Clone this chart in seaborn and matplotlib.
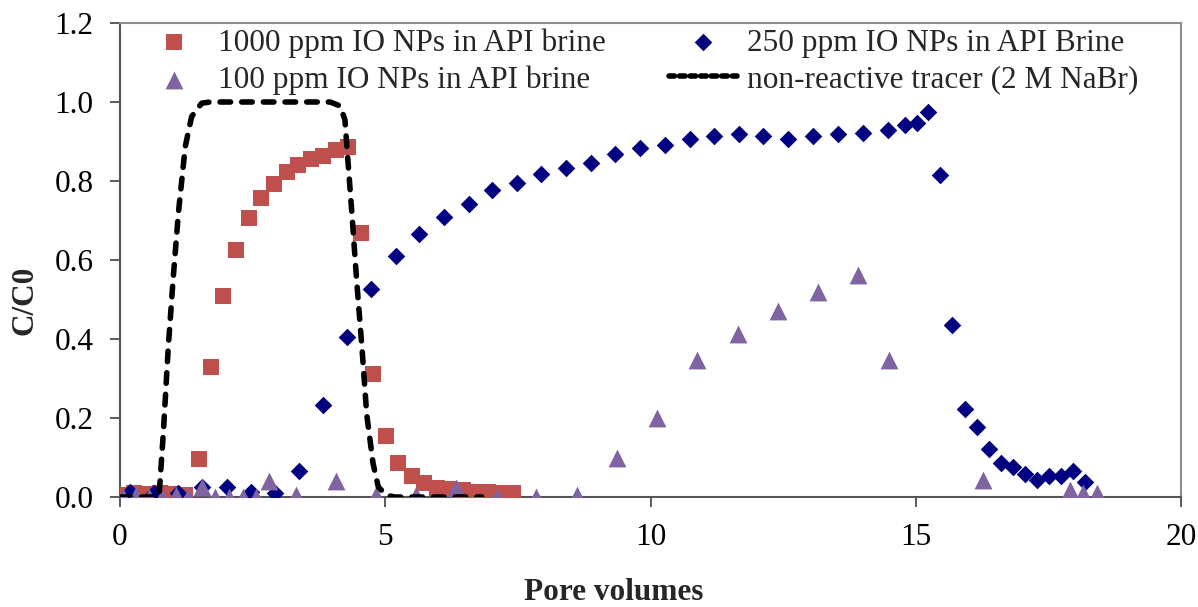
import numpy as np
import pandas as pd
import matplotlib
matplotlib.use("Agg")
import matplotlib.pyplot as plt
import seaborn as sns

# ---- data ----
pv_1000 = [0.03, 0.27, 0.51, 0.75, 0.99, 1.23, 1.48, 1.71, 1.95, 2.19, 2.43, 2.66, 2.90, 3.14,
           3.36, 3.60, 3.83, 4.07, 4.30, 4.55, 4.77, 5.01, 5.24, 5.50, 5.73, 5.97, 6.22, 6.46,
           6.69, 6.93, 7.16, 7.40]
c_1000 = [0.005, 0.010, 0.008, 0.010, 0.008, 0.006, 0.095, 0.328, 0.510, 0.626, 0.707, 0.756,
          0.793, 0.822, 0.840, 0.855, 0.864, 0.879, 0.885, 0.669, 0.311, 0.154, 0.086, 0.054,
          0.035, 0.024, 0.021, 0.017, 0.013, 0.013, 0.010, 0.010]

pv_250 = [0.19, 0.65, 1.10, 1.55, 2.01, 2.47, 2.92, 3.37, 3.82, 4.27, 4.73, 5.20, 5.64, 6.10,
          6.57, 7.02, 7.48, 7.94, 8.41, 8.88, 9.34, 9.81, 10.28, 10.74, 11.20, 11.67, 12.13,
          12.59, 13.07, 13.54, 14.00, 14.47, 14.80, 15.02, 15.24, 15.46, 15.69, 15.92, 16.15,
          16.38, 16.61, 16.83, 17.06, 17.29, 17.51, 17.73, 17.96, 18.19]
c_250 = [0.013, 0.011, 0.009, 0.026, 0.025, 0.013, 0.010, 0.066, 0.234, 0.404, 0.527, 0.610,
         0.666, 0.708, 0.742, 0.777, 0.794, 0.818, 0.832, 0.845, 0.869, 0.883, 0.890, 0.907,
         0.914, 0.920, 0.913, 0.907, 0.914, 0.919, 0.921, 0.928, 0.941, 0.948, 0.974, 0.815,
         0.435, 0.222, 0.178, 0.122, 0.086, 0.076, 0.058, 0.042, 0.053, 0.053, 0.066, 0.038]

pv_100 = [0.06, 0.30, 0.55, 0.80, 1.05, 1.29, 1.55, 1.80, 2.05, 2.31, 2.56, 2.81, 3.31, 4.07,
          4.83, 5.58, 6.33, 7.10, 7.85, 8.61, 9.37, 10.12, 10.88, 11.65, 12.40, 13.16, 13.92,
          14.50, 16.27, 17.91, 18.16, 18.41]
c_100 = [0.000, 0.005, 0.000, 0.000, 0.005, 0.000, 0.025, 0.000, 0.000, 0.000, 0.000, 0.040,
         0.005, 0.040, 0.005, 0.005, 0.022, 0.000, 0.000, 0.005, 0.100, 0.200, 0.348, 0.413,
         0.472, 0.520, 0.562, 0.347, 0.043, 0.017, 0.009, 0.009]

pv_tracer = [0.00, 0.70, 0.74, 0.82, 0.91, 1.00, 1.10, 1.23, 1.35, 1.54, 1.70, 3.96, 4.15, 4.24,
             4.30, 4.37, 4.46, 4.56, 4.65, 4.77, 4.87, 5.03, 5.18, 6.82]
c_tracer = [0.000, 0.000, 0.009, 0.169, 0.380, 0.549, 0.718, 0.887, 0.963, 0.997, 1.000, 1.000,
            0.990, 0.955, 0.845, 0.720, 0.550, 0.380, 0.210, 0.085, 0.025, 0.004, 0.000, 0.000]

labels = ["1000 ppm IO NPs in API brine", "100 ppm IO NPs in API brine",
          "250 ppm IO NPs in API Brine", "non-reactive tracer (2 M NaBr)"]
x_ticks = [0, 5, 10, 15, 20]
y_ticks = [0.0, 0.2, 0.4, 0.6, 0.8, 1.0, 1.2]

# ---- style ----
sns.set_style("white")
plt.rcParams["font.family"] = ["Liberation Serif", "DejaVu Serif"]
FS = 22.5
LW = 4.0
DASH = (0, (1.9, 2.0))

W, H = 1198, 607
fig = plt.figure(figsize=(W / 100, H / 100), dpi=100)
ax = fig.add_axes([120 / W, 1 - 497 / H, (1181 - 120) / W, (497 - 23) / H])

sns.scatterplot(x=pv_1000, y=c_1000, marker="s", s=120, color="#C0504D", linewidth=0,
                label=labels[0], ax=ax, zorder=3)
sns.scatterplot(x=pv_250, y=c_250, marker="D", s=80, color="#000080", linewidth=0,
                label=labels[2], ax=ax, zorder=3)
sns.scatterplot(x=pv_100, y=c_100, marker="^", s=165, color="#8064A2", linewidth=0,
                label=labels[1], ax=ax, zorder=4)
tr = pd.DataFrame({"pv": pv_tracer, "c": c_tracer})
sns.lineplot(data=tr, x="pv", y="c", color="black", sort=False, label=labels[3], ax=ax,
             zorder=5, lw=LW, ls=DASH, dash_capstyle="round", solid_joinstyle="round")

for ln in ax.lines:
    ln.set_linewidth(LW)
    ln.set_linestyle(DASH)
    ln.set_dash_capstyle("round")

ax.set_xlim(0, 20)
ax.set_ylim(0, 1.2)
ax.set_xticks(x_ticks)
ax.set_xticklabels([str(v) for v in x_ticks])
ax.set_yticks(y_ticks)
ax.set_yticklabels([f"{v:.1f}" for v in y_ticks])
ax.tick_params(axis="both", direction="out", length=7, width=1.2, colors="#404040",
               labelcolor="black", labelsize=FS, bottom=True, left=True)
ax.tick_params(axis="x", pad=12)
ax.tick_params(axis="y", pad=12)

for side in ["left", "bottom"]:
    ax.spines[side].set_color("#555555")
    ax.spines[side].set_linewidth(1.5)
for side in ["top", "right"]:
    ax.spines[side].set_color("#8c8c8c")
    ax.spines[side].set_linewidth(1.5)

ax.set_xlabel("Pore volumes", fontsize=FS, fontweight="bold")
ax.set_ylabel("C/C0", fontsize=FS, fontweight="bold")
ax.xaxis.set_label_coords((614 - 120) / (1181 - 120), (497 - 593) / 474)
ax.xaxis.label.set_va("center")
ax.yaxis.set_label_coords((25 - 120) / (1181 - 120), (497 - 300) / 474)
ax.yaxis.label.set_va("center")
ax.yaxis.label.set_ha("center")

handles, labs = ax.get_legend_handles_labels()
order = [labs.index(l) for l in labels]
leg = ax.legend([handles[i] for i in order], [labs[i] for i in order], ncol=2,
                loc="upper left", bbox_to_anchor=(140 / W, 1 - 28 / H),
                bbox_transform=fig.transFigure, frameon=False, fontsize=FS,
                borderpad=0, borderaxespad=0, handlelength=2.2, handletextpad=0.3,
                columnspacing=2.0, labelspacing=0.25, markerscale=1.0)
for h in leg.get_lines():
    h.set_linewidth(LW)
    h.set_linestyle((0, (1.0, 0.9)))
    h.set_dash_capstyle("round")

fig.savefig("out.png", dpi=100)
